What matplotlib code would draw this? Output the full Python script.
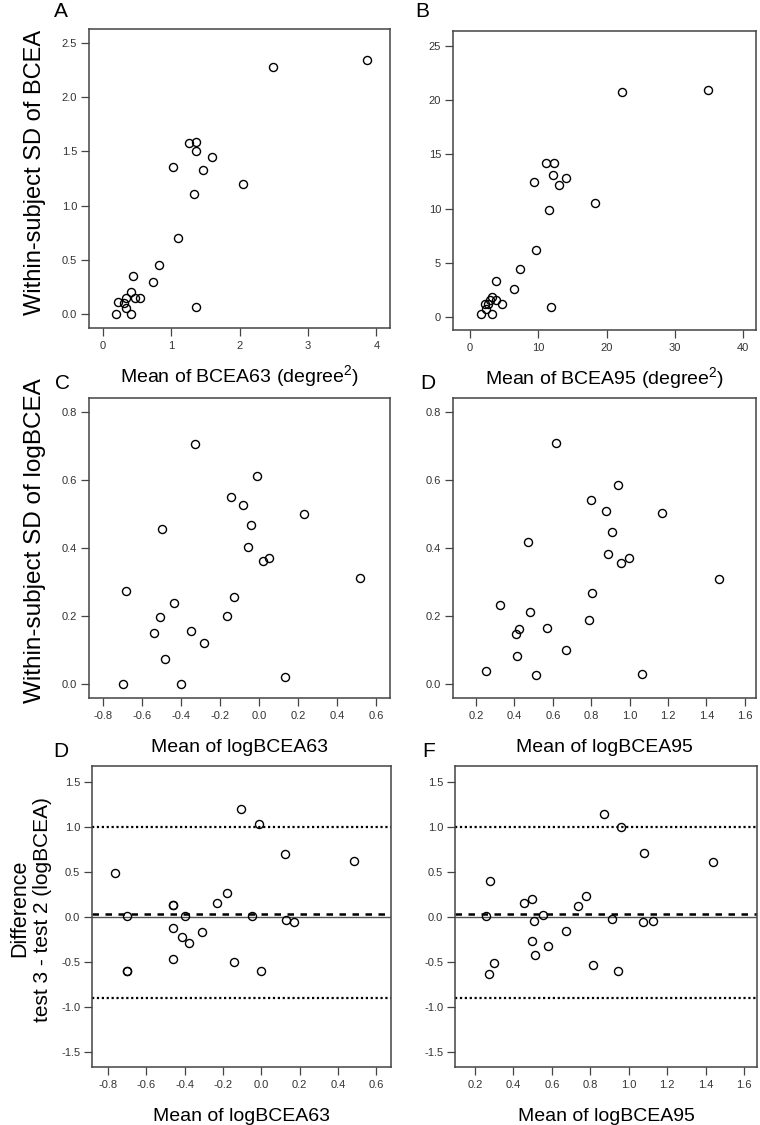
import matplotlib
matplotlib.use("Agg")
import matplotlib.pyplot as plt
import numpy as np

plt.rcParams['font.family'] = ['Liberation Sans', 'DejaVu Sans']
plt.rcParams['axes.unicode_minus'] = False
plt.rcParams['mathtext.fontset'] = 'custom'
plt.rcParams['mathtext.rm'] = 'Liberation Sans'
plt.rcParams['mathtext.it'] = 'Liberation Sans'

# ---------------- data ----------------
a_x = [2.49, 3.86, 1.26, 1.37, 1.37, 1.60, 1.03, 1.47, 2.05, 1.34, 1.10, 0.83, 0.44, 0.74,
       0.41, 0.23, 0.31, 0.34, 0.47, 0.54, 0.34, 0.20, 0.41, 1.37]
a_y = [2.28, 2.34, 1.58, 1.59, 1.50, 1.45, 1.36, 1.33, 1.20, 1.11, 0.70, 0.45, 0.35, 0.29,
       0.20, 0.11, 0.10, 0.15, 0.15, 0.15, 0.055, 0.00, 0.00, 0.06]

b_x = [22.2, 34.8, 11.2, 12.3, 12.2, 14.1, 9.3, 13.1, 18.3, 11.6, 9.7, 7.3, 3.8, 6.5,
       3.2, 3.85, 4.7, 2.2, 2.7, 2.4, 1.6, 3.2, 11.9, 2.9]
b_y = [20.7, 20.9, 14.2, 14.2, 13.1, 12.8, 12.5, 12.2, 10.55, 9.9, 6.2, 4.45, 3.35, 2.65,
       1.85, 1.6, 1.26, 1.2, 1.2, 0.74, 0.34, 0.34, 0.96, 1.6]

c_x = [-0.328, -0.010, -0.142, -0.080, 0.232, -0.497, -0.043, -0.058, 0.022, 0.053, 0.518,
       -0.681, -0.127, -0.437, -0.506, -0.164, -0.538, -0.349, -0.284, -0.480, 0.135, -0.70, -0.40]
c_y = [0.705, 0.612, 0.549, 0.525, 0.500, 0.457, 0.468, 0.402, 0.361, 0.370, 0.313,
       0.274, 0.256, 0.240, 0.199, 0.202, 0.150, 0.156, 0.122, 0.073, 0.023, 0.0, 0.0]

d_x = [0.618, 0.940, 0.799, 0.877, 1.167, 0.469, 0.910, 0.888, 0.957, 0.995, 1.467, 0.804,
       0.325, 0.483, 0.790, 0.426, 0.568, 0.407, 0.669, 0.415, 0.252, 0.514, 1.066]
d_y = [0.707, 0.584, 0.541, 0.508, 0.504, 0.418, 0.446, 0.382, 0.356, 0.372, 0.309, 0.269,
       0.233, 0.211, 0.188, 0.163, 0.164, 0.148, 0.102, 0.083, 0.040, 0.028, 0.031]

e_x = [-0.105, -0.010, 0.126, 0.483, -0.763, -0.177, -0.231, -0.462, -0.462, -0.70, -0.40,
       -0.048, 0.128, 0.173, -0.462, -0.311, -0.414, -0.375, -0.462, -0.144, -0.70, -0.70, -0.001]
e_y = [1.197, 1.037, 0.707, 0.626, 0.485, 0.263, 0.152, 0.133, 0.133, 0.008, 0.008,
       0.008, -0.03, -0.052, -0.119, -0.170, -0.218, -0.293, -0.467, -0.504, -0.596, -0.596, -0.596]

f_x = [0.870, 0.960, 1.078, 1.439, 0.280, 0.778, 0.457, 0.495, 0.736, 0.256, 0.553, 0.915,
       0.506, 1.076, 1.125, 0.674, 0.498, 0.578, 0.514, 0.815, 0.299, 0.275, 0.945]
f_y = [1.144, 1.004, 0.715, 0.615, 0.404, 0.237, 0.159, 0.200, 0.122, 0.008, 0.022, -0.022,
       -0.048, -0.052, -0.044, -0.156, -0.267, -0.319, -0.419, -0.533, -0.507, -0.630, -0.596]

# Bland-Altman lines (mean difference and limits of agreement)
ba_mean = 0.03
ba_upper = 1.00
ba_lower = -0.90

a_xticks = [0, 1, 2, 3, 4]
a_yticks = [0.0, 0.5, 1.0, 1.5, 2.0, 2.5]
b_xticks = [0, 10, 20, 30, 40]
b_yticks = [0, 5, 10, 15, 20, 25]
c_xticks = [-0.8, -0.6, -0.4, -0.2, 0.0, 0.2, 0.4, 0.6]
d_xticks = [0.2, 0.4, 0.6, 0.8, 1.0, 1.2, 1.4, 1.6]
cd_yticks = [0.0, 0.2, 0.4, 0.6, 0.8]
ef_yticks = [-1.5, -1.0, -0.5, 0.0, 0.5, 1.0, 1.5]

W, H = 760, 1125
fig = plt.figure(figsize=(W / 100, H / 100), dpi=100)

def px_axes(l, t, r, b):
    return fig.add_axes([l / W, 1 - b / H, (r - l) / W, (b - t) / H])

axA = px_axes(89, 29, 390, 328)
axB = px_axes(453, 31, 756, 330)
axC = px_axes(89, 398, 390, 698)
axD = px_axes(453, 398, 756, 698)
axE = px_axes(92, 766, 391, 1067)
axF = px_axes(455, 766, 757, 1067)

tick_col = '#333333'
spine_col = '#444444'

def style(ax, xt, yt, xfmt, yfmt, xlim, ylim):
    ax.set_xlim(*xlim)
    ax.set_ylim(*ylim)
    ax.set_xticks(xt)
    ax.set_yticks(yt)
    ax.set_xticklabels([xfmt.format(v) for v in xt])
    ax.set_yticklabels([yfmt.format(v) for v in yt])
    for s in ax.spines.values():
        s.set_color(spine_col)
        s.set_linewidth(1.1)
    ax.tick_params(axis='both', direction='out', length=5.5, width=0.9,
                   color=spine_col, labelsize=8, labelcolor=tick_col)
    ax.tick_params(axis='x', pad=3.8)
    ax.tick_params(axis='y', pad=3.0)

mk = dict(linestyle='none', marker='o', markersize=5.8, markerfacecolor='none',
          markeredgecolor='black', markeredgewidth=1.0)

axA.plot(a_x, a_y, **mk)
axB.plot(b_x, b_y, **mk)
axC.plot(c_x, c_y, **mk)
axD.plot(d_x, d_y, **mk)

for ax, xs, ys in ((axE, e_x, e_y), (axF, f_x, f_y)):
    ax.axhline(0.0, color='#555555', lw=1.0, zorder=1)
    ax.axhline(ba_mean, color='black', lw=1.8, linestyle=(0, (2.6, 2.6)), zorder=2)
    ax.axhline(ba_upper, color='black', lw=1.6, linestyle=(0, (1, 1.2)), zorder=2)
    ax.axhline(ba_lower, color='black', lw=1.6, linestyle=(0, (1, 1.2)), zorder=2)
    ax.plot(xs, ys, zorder=3, **mk)

style(axA, a_xticks, a_yticks, '{:d}', '{:.1f}', (-0.2, 4.2), (-0.13, 2.63))
style(axB, b_xticks, b_yticks, '{:d}', '{:d}', (-2.5, 41.9), (-1.15, 26.35))
style(axC, c_xticks, cd_yticks, '{:.1f}', '{:.1f}', (-0.872, 0.672), (-0.04, 0.84))
style(axD, d_xticks, cd_yticks, '{:.1f}', '{:.1f}', (0.08, 1.658), (-0.04, 0.84))
style(axE, c_xticks, ef_yticks, '{:.1f}', '{:.1f}', (-0.884, 0.678), (-1.667, 1.68))
style(axF, d_xticks, ef_yticks, '{:.1f}', '{:.1f}', (0.096, 1.668), (-1.667, 1.68))

# x labels (baseline ~54 px below bottom spine)
xl_kw = dict(xycoords='axes fraction', textcoords='offset points', ha='center',
             va='baseline', fontsize=14, color='black')
axA.annotate('Mean of BCEA63 (degree$^{2}$)', (0.5, 0), xytext=(0, -39), **xl_kw)
axB.annotate('Mean of BCEA95 (degree$^{2}$)', (0.5, 0), xytext=(0, -39), **xl_kw)
axC.annotate('Mean of logBCEA63', (0.5, 0), xytext=(0, -39), **xl_kw)
axD.annotate('Mean of logBCEA95', (0.5, 0), xytext=(0, -39), **xl_kw)
axE.annotate('Mean of logBCEA63', (0.5, 0), xytext=(0, -39), **xl_kw)
axF.annotate('Mean of logBCEA95', (0.5, 0), xytext=(0, -39), **xl_kw)

# y labels
yl = dict(rotation=90, ha='center', va='center', color='black')
fig.text(35 / W, 1 - 172 / H, 'Within-subject SD of BCEA', fontsize=17, **yl)
fig.text(35 / W, 1 - 541 / H, 'Within-subject SD of logBCEA', fontsize=17.5, **yl)
fig.text(20 / W, 1 - 908 / H, 'Difference', fontsize=15.5, **yl)
fig.text(43 / W, 1 - 910 / H, 'test 3 - test 2 (logBCEA)', fontsize=15, **yl)

# panel letters
pl = dict(ha='center', va='baseline', fontsize=15, color='black')
fig.text(61 / W, 1 - 17 / H, 'A', **pl)
fig.text(422 / W, 1 - 17 / H, 'B', **pl)
fig.text(63 / W, 1 - 389 / H, 'C', **pl)
fig.text(428 / W, 1 - 389 / H, 'D', **pl)
fig.text(61 / W, 1 - 757 / H, 'D', **pl)
fig.text(429 / W, 1 - 757 / H, 'F', **pl)

fig.savefig('out.png', dpi=100)
